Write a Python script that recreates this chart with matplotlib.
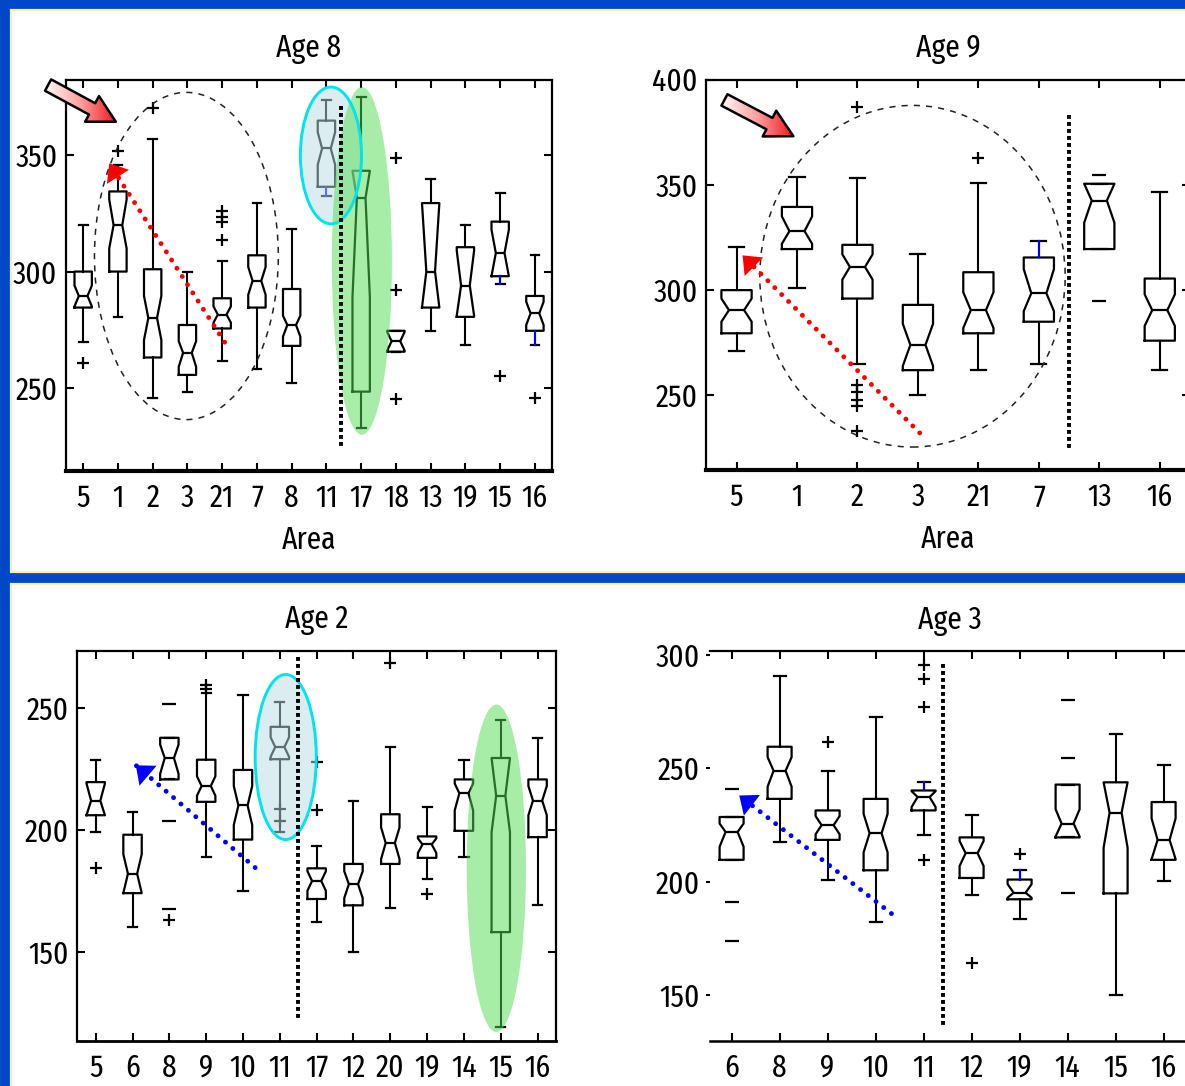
import os
import numpy as np
import matplotlib
matplotlib.use('Agg')
import matplotlib.pyplot as plt
from matplotlib import font_manager
from matplotlib.patches import Ellipse, Rectangle, FancyArrowPatch
from matplotlib.colors import LinearSegmentedColormap


# Age 8
age8_areas = ['5', '1', '2', '3', '21', '7', '8', '11', '17', '18', '13', '19', '15', '16']
age8_med = [289.5, 320, 280, 265, 281.5, 296, 277, 353, 331.7, 270, 300, 294, 308, 282]
age8_q1 = [284.5, 300, 263, 255.5, 275.5, 284.5, 268, 336.5, 248.3, 265.5, 284.5, 280.5, 298, 274.5]
age8_q3 = [300, 334.5, 301, 277, 288.5, 307, 292.5, 365, 343.4, 274.5, 329.5, 310.5, 321.5, 289.5]
age8_lo = [269.5, 280.5, 245.5, 248, 261.5, 258, 252, 332.5, 232.5, 265.5, 274.5, 268.5, 294.5, 268.5]
age8_hi = [320, 346, 357, 300, 304.5, 329.5, 318.5, 374, 375, 274.5, 340, 320, 334, 307]
age8_cilo = [285, 310, 270.5, 259, 278, 290, 272, 346, 289, 266, 284.5, 281, 298, 277]
age8_cihi = [294, 331, 289.5, 270, 285, 302, 281, 360, 343.4, 274, 329.5, 309, 318, 287]
age8_fliers = [[260.5], [352], [370.5], [], [326, 323.5, 321.5, 313.5], [], [], [], [],
               [349, 292, 245], [], [], [255], [245.5]]
age8_dashes = [[] for _ in age8_areas]
age8_blue = ['', '', '', '', '', '', '', 'lo', '', '', '', '', 'lo', 'lo']

# Age 9
age9_areas = ['5', '1', '2', '3', '21', '7', '13', '16']
age9_med = [290.5, 328, 311, 274, 290.5, 298.5, 342.5, 290.5]
age9_q1 = [279.5, 319.5, 296, 262, 279.5, 285, 319.5, 276]
age9_q3 = [300, 339.5, 321.5, 293, 308.5, 315.5, 350.5, 305.5]
age9_lo = [271, 301, 265, 250, 262, 265, 319.5, 262]
age9_hi = [320.5, 353.5, 353, 317, 351, 323.5, 350.5, 346.5]
age9_cilo = [285, 322, 305, 264, 282, 290, 332, 283]
age9_cihi = [296, 335, 317, 284, 299, 310, 350.5, 298]
age9_fliers = [[], [], [387, 255, 251.5, 248, 245, 233], [], [362.5], [], [], []]
age9_dashes = [[], [], [], [], [], [], [354.5, 295], []]
age9_blue = ['', '', '', '', '', 'hi', '', '']

# Age 2
age2_areas = ['5', '6', '8', '9', '10', '11', '17', '12', '20', '19', '14', '15', '16']
age2_med = [212, 182, 229.5, 218, 210, 234, 179, 177.7, 194.6, 194, 215, 214, 212]
age2_q1 = [206, 174, 220.7, 211.5, 196, 229, 171.6, 169, 186, 188.5, 199.6, 158, 197]
age2_q3 = [219.6, 198, 237.8, 228.8, 224.6, 242.3, 184.2, 186, 206.4, 197.3, 220.7, 229.5, 220.7]
age2_lo = [199, 160, 220.7, 188.8, 175, 199, 162.2, 150, 168, 179.7, 188.8, 119, 169]
age2_hi = [228.8, 207.2, 237.8, 256, 255.4, 252.4, 193.2, 211.8, 234.2, 209.2, 228.8, 245.3, 237.8]
age2_cilo = [206, 174, 223, 214, 202, 230, 175, 172, 188, 190.5, 208, 199, 206]
age2_cihi = [219, 190, 235, 222, 218, 238, 183, 183, 201, 196.5, 219, 229.5, 218]
age2_fliers = [[184.2], [], [162.8], [259.5, 257.8], [], [203.5, 208.5], [228, 208], [], [268.5],
               [173.6], [], [], []]
age2_dashes = [[], [], [251.6, 203.6, 167.3], [], [], [], [], [], [], [], [], [], []]
age2_blue = ['' for _ in age2_areas]

# Age 3
age3_areas = ['6', '8', '9', '10', '11', '12', '19', '14', '15', '16']
age3_med = [222, 249, 225, 221.4, 237.4, 212.6, 195.2, 225.7, 230.5, 218.5]
age3_q1 = [209.7, 236.6, 218.5, 205.1, 231.5, 201.7, 192.3, 219.6, 194.9, 209.7]
age3_q3 = [228.6, 259.6, 231.5, 236.6, 240.3, 219.6, 201, 242.9, 243.9, 235.2]
age3_lo = [209.7, 217.7, 201, 182.4, 220.6, 194, 183.6, 219.6, 150.1, 200.3]
age3_hi = [228.6, 290.7, 249, 272.7, 243.9, 229.7, 205.1, 242.9, 265.4, 251.6]
age3_cilo = [215.5, 242, 221, 213, 233, 207, 193, 220, 215, 210]
age3_cihi = [225.7, 255, 229, 230, 240, 218, 199, 232, 243.9, 228]
age3_fliers = [[], [], [261.8], [], [295.5, 289.7, 277.3, 209.7], [164], [212.4], [], [], []]
age3_dashes = [[241, 191, 174], [], [], [], [], [], [], [280.2, 254.8, 194.9], [], []]
age3_blue = ['', '', '', '', 'hi', '', 'hi', '', '', '']


W, H = 1185, 1086
SLIDE_BLUE = '#0048c8'
RULE_YELLOW = '#f4f4a4'
red_cmap = LinearSegmentedColormap.from_list('wr', ['#ffffff', '#ff9a9a', '#f00000'])


def _weight(w):
    if isinstance(w, (int, float)):
        return int(w)
    return font_manager.weight_dict.get(str(w).lower(), 400)


# The original labels use a tall, narrow, thin font: look for a regular condensed face
def pick_font():
    best, best_rank = None, 99
    for f in font_manager.fontManager.ttflist:
        tag = (f.name + ' ' + os.path.basename(f.fname)).lower().replace(' ', '').replace('-', '')
        if f.style != 'normal' or 'bold' in tag or 'black' in tag or 'medium' in tag:
            continue
        if not 300 <= _weight(f.weight) <= 420:
            continue
        if 'extracondensed' in tag:
            rank = 0
        elif 'semicondensed' in tag:
            rank = 3
        elif 'condensed' in tag:
            rank = 1
        elif 'narrow' in tag:
            rank = 2
        else:
            continue
        if 'light' in tag or 'thin' in tag:
            rank += 0.5
        if rank < best_rank:
            best, best_rank = f, rank
    if best is None:
        return ['Liberation Sans', 'DejaVu Sans'], 'normal', 'normal', 18.5
    return [best.name, 'DejaVu Sans'], best.stretch, best.weight, 23


FONT, STRETCH, WEIGHT, FS = pick_font()
plt.rcParams['font.family'] = FONT
plt.rcParams['font.stretch'] = STRETCH
plt.rcParams['font.weight'] = WEIGHT
plt.rcParams['axes.titleweight'] = WEIGHT
plt.rcParams['axes.labelweight'] = WEIGHT
plt.rcParams['font.size'] = FS


def px_axes(fig, left, top, right, bottom):
    # place an axes from pixel edges of the slide
    return fig.add_axes([left / W, 1 - bottom / H, (right - left) / W, (bottom - top) / H])


def draw_boxes(ax, areas, med, q1, q3, lo, hi, cilo, cihi, fliers, dashes, blue):
    for i in range(len(areas)):
        pos = i + 1
        stats = dict(med=med[i], q1=q1[i], q3=q3[i], whislo=lo[i], whishi=hi[i],
                     cilo=cilo[i], cihi=cihi[i], fliers=fliers[i])
        ax.bxp([stats], positions=[pos], widths=0.5, shownotches=True, manage_ticks=False,
               boxprops=dict(color='black', lw=1.6),
               whiskerprops=dict(color='black', lw=1.5, linestyle='-'),
               capprops=dict(color='black', lw=1.6),
               medianprops=dict(color='black', lw=1.6),
               flierprops=dict(marker='+', markersize=9, markeredgecolor='black', mew=1.6))
        if blue[i] == 'lo':
            ax.plot([pos, pos], [lo[i], q1[i]], color='blue', lw=1.5, zorder=3)
        elif blue[i] == 'hi':
            ax.plot([pos, pos], [q3[i], hi[i]], color='blue', lw=1.5, zorder=3)
        if dashes[i]:
            ax.plot([pos] * len(dashes[i]), dashes[i], ls='none', marker='_', ms=10,
                    mew=1.6, color='black', zorder=3)
    ax.set_xticks(range(1, len(areas) + 1))
    ax.set_xticklabels(areas)


def style_axes(ax, title, xlim, ylim, yticks, bottom_lw=1.6, show_left=True, xlabel=None):
    ax.set_xlim(*xlim)
    ax.set_ylim(*ylim)
    ax.set_yticks(yticks)
    for side in ['top', 'left', 'right']:
        ax.spines[side].set_linewidth(1.6)
    ax.spines['bottom'].set_linewidth(bottom_lw)
    ax.tick_params(direction='in', length=6, width=1.5, top=True, right=True,
                   labelsize=FS, pad=9)
    ax.tick_params(axis='y', pad=6)
    if not show_left:
        ax.spines['left'].set_visible(False)
        ax.tick_params(axis='y', which='both', left=True, direction='out', length=3, pad=4.5)
    ax.set_title(title, fontsize=FS, pad=16)
    if xlabel:
        ax.set_xlabel(xlabel, fontsize=FS, labelpad=8)


def dotted_arrow(ax, start, end, color):
    ax.plot([start[0], end[0]], [start[1], end[1]], color=color, lw=3.5,
            ls=(0, (0.01, 2.0)), dash_capstyle='round', zorder=6, clip_on=False)
    ax.annotate('', xy=end, xytext=start, annotation_clip=False,
                arrowprops=dict(arrowstyle='-|>,head_length=0.55,head_width=0.45',
                                color=color, lw=0, shrinkA=0, shrinkB=0, mutation_scale=21),
                zorder=7)


def block_arrow(ax, tail, tip):
    kw = dict(arrowstyle='simple,head_length=0.9,head_width=0.97,tail_width=0.43',
              mutation_scale=21.6, shrinkA=0, shrinkB=0, clip_on=False)
    base = FancyArrowPatch(tail, tip, fc='white', ec='none', zorder=7, **kw)
    ax.add_patch(base)
    dx = (tip[0] - tail[0]) * 0.08
    dy = abs(tip[1] - tail[1]) * 0.6 + 6
    grad = ax.imshow(np.linspace(0, 1, 256)[None, :], cmap=red_cmap, aspect='auto',
                     extent=(tail[0] - dx, tip[0] + dx, min(tail[1], tip[1]) - dy,
                             max(tail[1], tip[1]) + dy),
                     interpolation='bilinear', zorder=8)
    grad.set_clip_path(base)
    grad.set_clip_box(ax.figure.bbox)
    ax.add_patch(FancyArrowPatch(tail, tip, fc='none', ec='black', lw=1.8, zorder=9, **kw))


def ellipse(ax, center, w, h, **kw):
    ax.add_patch(Ellipse(center, w, h, clip_on=False, **kw))


fig = plt.figure(figsize=(W / 100, H / 100), dpi=100, facecolor=SLIDE_BLUE)
# white slide strips with thin yellow rules
for top, bottom in [(9.5, 572), (584, 1100)]:
    fig.add_artist(Rectangle((11 / W, 1 - bottom / H), 1.2, (bottom - top) / H,
                             transform=fig.transFigure, facecolor='white',
                             edgecolor=RULE_YELLOW, lw=1.6, zorder=-1))

# ---- Age 8
ax8 = px_axes(fig, 65.8, 79.5, 552.3, 470.6)
draw_boxes(ax8, age8_areas, age8_med, age8_q1, age8_q3, age8_lo, age8_hi,
           age8_cilo, age8_cihi, age8_fliers, age8_dashes, age8_blue)
ellipse(ax8, (3.97, 306.7), 5.29, 140.9, fill=False, ec='#222222', lw=1.1, ls=(0, (4, 4)), zorder=5)
ellipse(ax8, (8.13, 350), 1.76, 58.9, fc='#b8dde3', ec='none', alpha=0.5, zorder=4)
ellipse(ax8, (9.02, 304.6), 1.73, 149.7, fc='#50dc50', ec='none', alpha=0.5, zorder=4)
ellipse(ax8, (8.13, 350), 1.76, 58.9, fill=False, ec='#00e4ee', lw=2.1, zorder=5)
ax8.plot([8.43, 8.43], [371.5, 223.4], color='black', lw=2.8, ls=(0, (1, 0.8)), zorder=6)
dotted_arrow(ax8, (5.07, 269.6), (1.75, 346.6), 'red')
block_arrow(ax8, (-0.01, 380.3), (1.94, 364.5))
style_axes(ax8, 'Age 8', (0.5, 14.5), (214.3, 382.7), [250, 300, 350], bottom_lw=3, xlabel='Area')

# ---- Age 9
ax9 = px_axes(fig, 706.3, 79.5, 1190, 470)
draw_boxes(ax9, age9_areas, age9_med, age9_q1, age9_q3, age9_lo, age9_hi,
           age9_cilo, age9_cihi, age9_fliers, age9_dashes, age9_blue)
ellipse(ax9, (3.91, 306.6), 5.05, 162.2, fill=False, ec='#222222', lw=1.1, ls=(0, (4, 4)), zorder=5)
ax9.plot([6.5, 6.5], [383.3, 224.3], color='black', lw=2.8, ls=(0, (1, 0.8)), zorder=6)
dotted_arrow(ax9, (4.03, 232.2), (1.10, 316.5), 'red')
block_arrow(ax9, (0.80, 390.3), (1.94, 373.1))
style_axes(ax9, 'Age 9', (0.5, 8.5), (214.6, 400), [250, 300, 350, 400], bottom_lw=3, xlabel='Area')

# ---- Age 2
ax2 = px_axes(fig, 77.3, 650.6, 556, 1040.5)
draw_boxes(ax2, age2_areas, age2_med, age2_q1, age2_q3, age2_lo, age2_hi,
           age2_cilo, age2_cihi, age2_fliers, age2_dashes, age2_blue)
ellipse(ax2, (6.16, 229.9), 1.66, 67.8, fc='#b8dde3', ec='none', alpha=0.5, zorder=4)
ellipse(ax2, (6.16, 229.9), 1.66, 67.8, fill=False, ec='#00e4ee', lw=2.1, zorder=5)
ellipse(ax2, (11.88, 184.2), 1.61, 134.5, fc='#50dc50', ec='none', alpha=0.5, zorder=4)
ax2.plot([6.5, 6.5], [271, 122.3], color='black', lw=2.8, ls=(0, (1, 0.8)), zorder=6)
dotted_arrow(ax2, (5.33, 184.5), (2.09, 226.5), 'blue')
style_axes(ax2, 'Age 2', (0.5, 13.5), (113.5, 273.6), [150, 200, 250], bottom_lw=2)

# ---- Age 3
ax3 = px_axes(fig, 710, 651.3, 1190, 1040.5)
draw_boxes(ax3, age3_areas, age3_med, age3_q1, age3_q3, age3_lo, age3_hi,
           age3_cilo, age3_cihi, age3_fliers, age3_dashes, age3_blue)
ax3.plot([5.41, 5.41], [296.2, 136.3], color='black', lw=2.8, ls=(0, (1, 0.8)), zorder=6)
dotted_arrow(ax3, (4.33, 186.0), (1.16, 238.1), 'blue')
style_axes(ax3, 'Age 3', (0.55, 10.55), (130, 301.7), [150, 200, 250, 300],
           bottom_lw=1.8, show_left=False)

fig.savefig('out.png', dpi=100, facecolor=SLIDE_BLUE)
